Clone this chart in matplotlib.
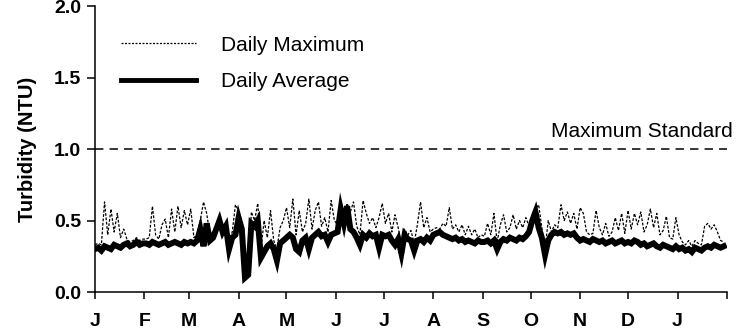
import numpy as np
import matplotlib
matplotlib.use('Agg')
import matplotlib.pyplot as plt

plt.rcParams['font.family'] = ['Liberation Sans', 'DejaVu Sans']

# values every second day, Jan .. following Jan
avg_ntu = [
    0.30, 0.31, 0.29, 0.32, 0.31, 0.30, 0.33, 0.32, 0.31, 0.33, 0.34, 0.32, 0.33, 0.35, 0.33, 0.34,  # Jan
    0.34, 0.33, 0.35, 0.34, 0.33, 0.34, 0.35, 0.33, 0.34, 0.35, 0.34, 0.33, 0.35, 0.34,  # Feb
    0.35, 0.34, 0.36, 0.44, 0.32, 0.48, 0.36, 0.38, 0.44, 0.50, 0.42, 0.46, 0.30, 0.38, 0.40,  # Mar
    0.52, 0.44, 0.10, 0.12, 0.48, 0.46, 0.50, 0.24, 0.28, 0.32, 0.34, 0.30, 0.22, 0.34, 0.36,  # Apr
    0.38, 0.40, 0.38, 0.30, 0.28, 0.36, 0.38, 0.30, 0.38, 0.40, 0.42, 0.39, 0.40, 0.35, 0.40, 0.41,  # May
    0.42, 0.58, 0.48, 0.60, 0.44, 0.42, 0.38, 0.33, 0.40, 0.38, 0.41, 0.39, 0.40, 0.31, 0.40,  # Jun
    0.39, 0.40, 0.36, 0.33, 0.37, 0.27, 0.40, 0.37, 0.36, 0.29, 0.36, 0.37, 0.35, 0.38, 0.36,  # Jul
    0.40, 0.41, 0.42, 0.40, 0.39, 0.38, 0.37, 0.38, 0.36, 0.37, 0.35, 0.36, 0.35, 0.34, 0.36, 0.35,  # Aug
    0.35, 0.36, 0.34, 0.36, 0.30, 0.35, 0.37, 0.36, 0.38, 0.37, 0.36, 0.38, 0.37, 0.39, 0.42,  # Sep
    0.50, 0.56, 0.45, 0.38, 0.26, 0.36, 0.40, 0.42, 0.41, 0.42, 0.40, 0.41, 0.40, 0.41, 0.38, 0.36,  # Oct
    0.37, 0.36, 0.35, 0.37, 0.36, 0.35, 0.36, 0.34, 0.35, 0.36, 0.34, 0.35, 0.36, 0.34,  # Nov
    0.35, 0.34, 0.36, 0.35, 0.33, 0.34, 0.32, 0.33, 0.34, 0.32, 0.31, 0.33, 0.32, 0.31, 0.30, 0.32,  # Dec
    0.30, 0.31, 0.29, 0.30, 0.28, 0.31, 0.30, 0.29, 0.31, 0.32, 0.31, 0.33, 0.32, 0.31, 0.32,  # Jan
]
max_ntu = [
    0.33, 0.34, 0.33, 0.63, 0.40, 0.58, 0.42, 0.55, 0.38, 0.44, 0.37, 0.35, 0.36, 0.38, 0.36, 0.37,  # Jan
    0.37, 0.38, 0.60, 0.40, 0.37, 0.47, 0.51, 0.38, 0.58, 0.42, 0.60, 0.45, 0.57, 0.47,  # Feb
    0.58, 0.38, 0.40, 0.50, 0.63, 0.55, 0.40, 0.42, 0.47, 0.53, 0.46, 0.49, 0.36, 0.42, 0.61,  # Mar
    0.57, 0.47, 0.14, 0.14, 0.56, 0.50, 0.62, 0.30, 0.50, 0.38, 0.57, 0.36, 0.30, 0.45, 0.50,  # Apr
    0.59, 0.45, 0.65, 0.40, 0.57, 0.42, 0.48, 0.65, 0.44, 0.57, 0.63, 0.46, 0.52, 0.42, 0.64, 0.50,  # May
    0.47, 0.62, 0.55, 0.62, 0.56, 0.63, 0.46, 0.40, 0.64, 0.55, 0.48, 0.52, 0.45, 0.52, 0.62,  # Jun
    0.48, 0.55, 0.42, 0.54, 0.45, 0.32, 0.44, 0.40, 0.43, 0.34, 0.47, 0.63, 0.45, 0.52, 0.42,  # Jul
    0.44, 0.45, 0.44, 0.48, 0.46, 0.59, 0.44, 0.47, 0.42, 0.47, 0.40, 0.46, 0.40, 0.44, 0.38, 0.40,  # Aug
    0.39, 0.48, 0.40, 0.55, 0.35, 0.47, 0.54, 0.42, 0.45, 0.54, 0.44, 0.50, 0.45, 0.52, 0.46,  # Sep
    0.54, 0.58, 0.61, 0.45, 0.30, 0.50, 0.42, 0.47, 0.45, 0.61, 0.50, 0.56, 0.48, 0.55, 0.44, 0.59,  # Oct
    0.55, 0.42, 0.40, 0.41, 0.57, 0.45, 0.40, 0.48, 0.39, 0.42, 0.52, 0.43, 0.55, 0.41,  # Nov
    0.57, 0.44, 0.55, 0.47, 0.56, 0.42, 0.47, 0.58, 0.45, 0.55, 0.40, 0.43, 0.53, 0.38, 0.37, 0.52,  # Dec
    0.40, 0.35, 0.33, 0.36, 0.32, 0.36, 0.34, 0.33, 0.46, 0.48, 0.44, 0.47, 0.42, 0.36, 0.35,  # Jan
]
days = np.arange(len(avg_ntu)) * 2

month_starts = [0, 31, 59, 90, 120, 151, 181, 212, 243, 273, 304, 334, 365, 396]
month_labels = ['J', 'F', 'M', 'A', 'M', 'J', 'J', 'A', 'S', 'O', 'N', 'D', 'J', '']
standard = 1.0

fig = plt.figure(figsize=(7.49, 3.34), dpi=100)
ax = fig.add_axes([0.1268, 0.1257, 0.8438, 0.8563])

ax.plot(days, max_ntu, color='black', lw=0.9, ls=(0, (2.2, 1.3)), label='Daily Maximum', zorder=2)
ax.plot(days, avg_ntu, color='black', lw=4.3, solid_joinstyle='miter', label='Daily Average', zorder=3)
ax.axhline(standard, color='black', lw=1.1, ls=(0, (5.5, 4.0)))
ax.text(1.0095, 1.125, 'Maximum Standard', transform=ax.get_yaxis_transform(),
        ha='right', va='center', fontsize=15)

ax.set_xlim(0, 396)
ax.set_ylim(0, 2.0)
ax.set_yticks([0.0, 0.5, 1.0, 1.5, 2.0])
ax.set_yticklabels(['0.0', '0.5', '1.0', '1.5', '2.0'], fontsize=14, fontweight='bold')
ax.set_xticks(month_starts)
ax.set_xticklabels(month_labels, fontsize=14, fontweight='bold')
ax.tick_params(axis='x', direction='out', length=5, width=1.1, pad=10)
ax.tick_params(axis='y', direction='out', length=6, width=1.1, pad=4)
ax.set_ylabel('Turbidity (NTU)', fontsize=14.5, fontweight='bold', labelpad=12)

for s in ['top', 'right']:
    ax.spines[s].set_visible(False)
for s in ['left', 'bottom']:
    ax.spines[s].set_linewidth(1.1)

leg = ax.legend(loc='upper left', bbox_to_anchor=(0.012, 0.962), frameon=False, fontsize=15,
                handlelength=3.6, handletextpad=1.2, labelspacing=0.85)
leg.get_lines()[0].set_linestyle((0, (1.6, 1.2)))
leg.get_lines()[1].set_linewidth(3.5)

fig.savefig('out.png', dpi=100)
